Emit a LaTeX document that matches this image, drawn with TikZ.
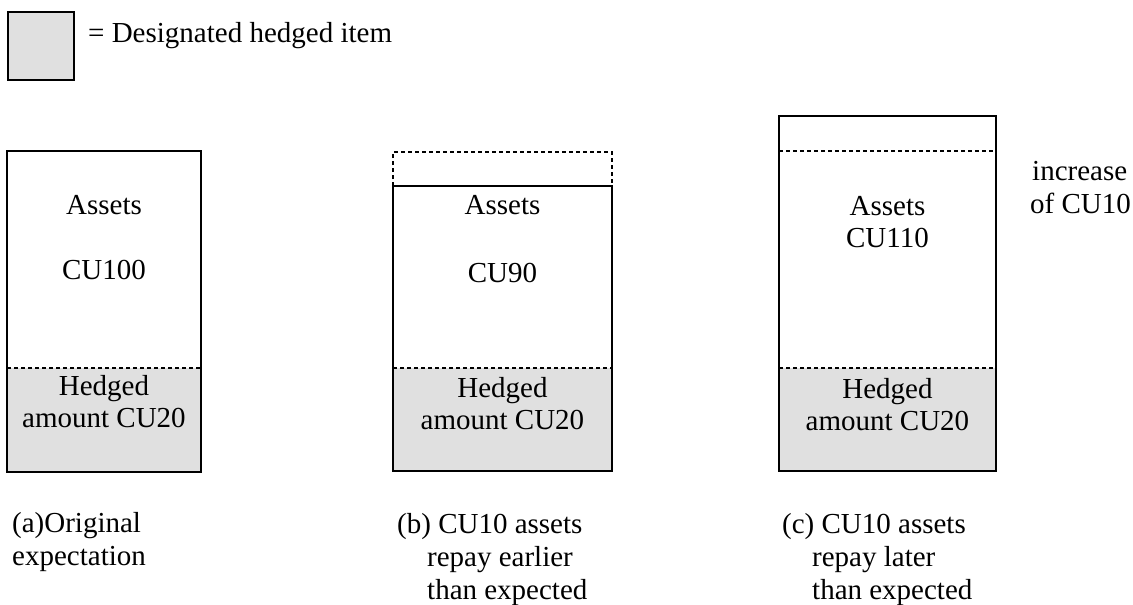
\documentclass[tikz,border=0pt]{standalone}
\usepackage{fontspec}
\setmainfont{Liberation Serif}
\definecolor{hedgegray}{HTML}{E0E0E0}
\begin{document}
\begin{tikzpicture}[x=1pt,y=-1pt,
  boxline/.style={draw=black,line width=1.8pt},
  hedgefill/.style={fill=hedgegray},
  dashline/.style={draw=black,line width=1.2pt,dash pattern=on 4pt off 3pt},
  txt/.style={font=\fontsize{29}{32}\selectfont,inner sep=0pt,align=center,anchor=base},
  captxt/.style={font=\fontsize{29}{33}\selectfont,inner sep=0pt,align=left,anchor=base west}]
\useasboundingbox (0,0) rectangle (1133,605);

% legend
\fill[hedgefill] (8,12) rectangle (74,80);
\draw[boxline] (8,12) rectangle (74,80);
\node[captxt] (legend) at (88,42) {= Designated hedged item};

% (a) original expectation
\fill[hedgefill] (7,368) rectangle (201,472);
\draw[dashline] (7,368) -- (201,368);
\draw[boxline] (7,151) rectangle (201,472);
\node[txt] (aAssets) at (104,214) {Assets};
\node[txt] (aCU) at (104,279) {CU100};
\node[txt] (aHedged) at (104,427) {Hedged\\amount CU20};

% (b) repay earlier
\fill[hedgefill] (393,368) rectangle (612,471);
\draw[dashline] (393,186) -- (393,152) -- (612,152) -- (612,186);
\draw[dashline] (393,368) -- (612,368);
\draw[boxline] (393,186) rectangle (612,471);
\node[txt] (bAssets) at (502.5,214) {Assets};
\node[txt] (bCU) at (502.5,282) {CU90};
\node[txt] (bHedged) at (502.5,429) {Hedged\\amount CU20};

% (c) repay later
\fill[hedgefill] (779,368) rectangle (996,471);
\draw[dashline] (779,151) -- (996,151);
\draw[dashline] (779,368) -- (996,368);
\draw[boxline] (779,116) rectangle (996,471);
\node[txt] (cAssets) at (887.5,247) {Assets\\CU110};
\node[txt] (cHedged) at (887.5,430) {Hedged\\amount CU20};
\node[captxt] (increase) at (1030,213) {\hspace*{2pt}increase\\of CU10};

% captions
\node[captxt] (capA) at (12,565) {(a)Original\\expectation};
\node[captxt] (capB) at (397,599) {(b) CU10 assets\\\hspace*{30pt}repay earlier\\\hspace*{30pt}than expected};
\node[captxt] (capC) at (782,599) {(c) CU10 assets\\\hspace*{30pt}repay later\\\hspace*{30pt}than expected};
\end{tikzpicture}
\end{document}
